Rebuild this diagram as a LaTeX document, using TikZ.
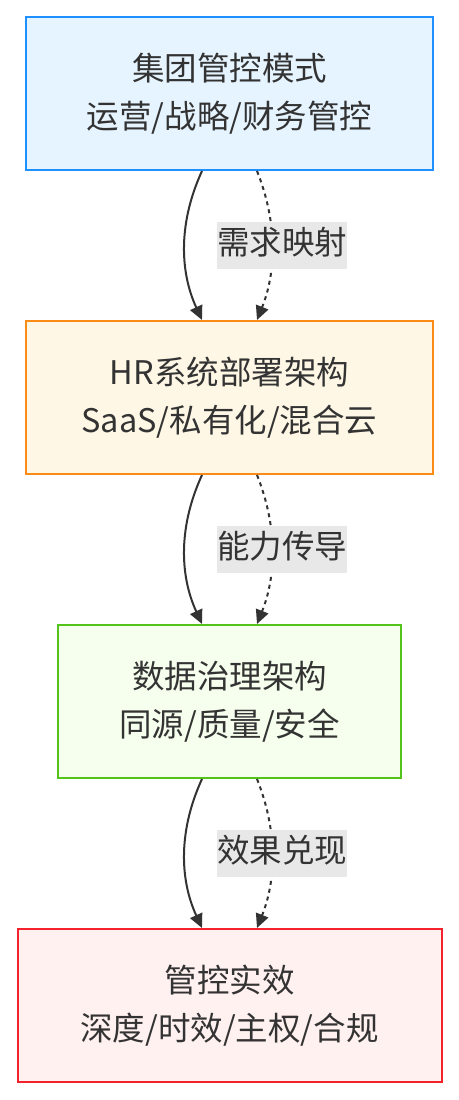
\documentclass[tikz,border=0pt]{standalone}
\usepackage{fontspec}
\newfontfamily\cjk{Noto Sans CJK SC}
\usepackage{tikz}
\usetikzlibrary{positioning,arrows.meta,calc}

\definecolor{txtgray}{HTML}{333333}
\definecolor{blueline}{HTML}{1E90FF}
\definecolor{bluefill}{HTML}{E6F4FF}
\definecolor{orangeline}{HTML}{FA8C16}
\definecolor{orangefill}{HTML}{FFF7E6}
\definecolor{greenline}{HTML}{52C41A}
\definecolor{greenfill}{HTML}{F6FFED}
\definecolor{redline}{HTML}{F5222D}
\definecolor{redfill}{HTML}{FFF1F0}
\definecolor{labelbg}{HTML}{E8E8E8}

\begin{document}
\begin{tikzpicture}[
  layer/.style={draw,line width=2pt,align=center,inner sep=0pt,minimum height=153pt,
    text=txtgray,font=\cjk\fontsize{32.5pt}{48pt}\selectfont},
  flow/.style={-{Triangle[length=14pt,width=13pt]},line width=2pt,draw=txtgray},
  dflow/.style={flow,dash pattern=on 4pt off 4pt},
  lbl/.style={fill=labelbg,inner sep=0pt,text=txtgray,text height=32pt,text depth=15pt,
    font=\cjk\fontsize{32.5pt}{48pt}\selectfont},
  node distance=149pt]
\useasboundingbox (0pt,0pt) rectangle (458pt,-1100pt);
\node[layer,draw=blueline,fill=bluefill,minimum width=407pt] (mode) at (229.5pt,-93.5pt)
  {集团管控模式\\运营/战略/财务管控};
\node[layer,draw=orangeline,fill=orangefill,minimum width=407pt,below=of mode] (hrsys)
  {HR系统部署架构\\SaaS/私有化/混合云};
\node[layer,draw=greenline,fill=greenfill,minimum width=343pt,below=of hrsys] (datagov)
  {数据治理架构\\同源/质量/安全};
\node[layer,draw=redline,fill=redfill,minimum width=424pt,below=of datagov] (effect)
  {管控实效\\深度/时效/主权/合规};
% solid curve on the left, dashed labelled curve on the right
\foreach \a/\b/\t in {mode/hrsys/需求映射,hrsys/datagov/能力传导,datagov/effect/效果兑现}{
  \draw[flow] ([xshift=-27.5pt]\a.south) .. controls +(-23pt,-50pt) and +(-23pt,50pt)
    .. ([xshift=-27.5pt]\b.north);
  \draw[dflow] ([xshift=27.5pt]\a.south) .. controls +(20pt,-50pt) and +(20pt,50pt)
    .. ([xshift=27.5pt]\b.north);
  \node[lbl] (lbl-\a) at ($(\a.south)!0.5!(\b.north)+(52.5pt,0)$) {\t};
}
\end{tikzpicture}
\end{document}
